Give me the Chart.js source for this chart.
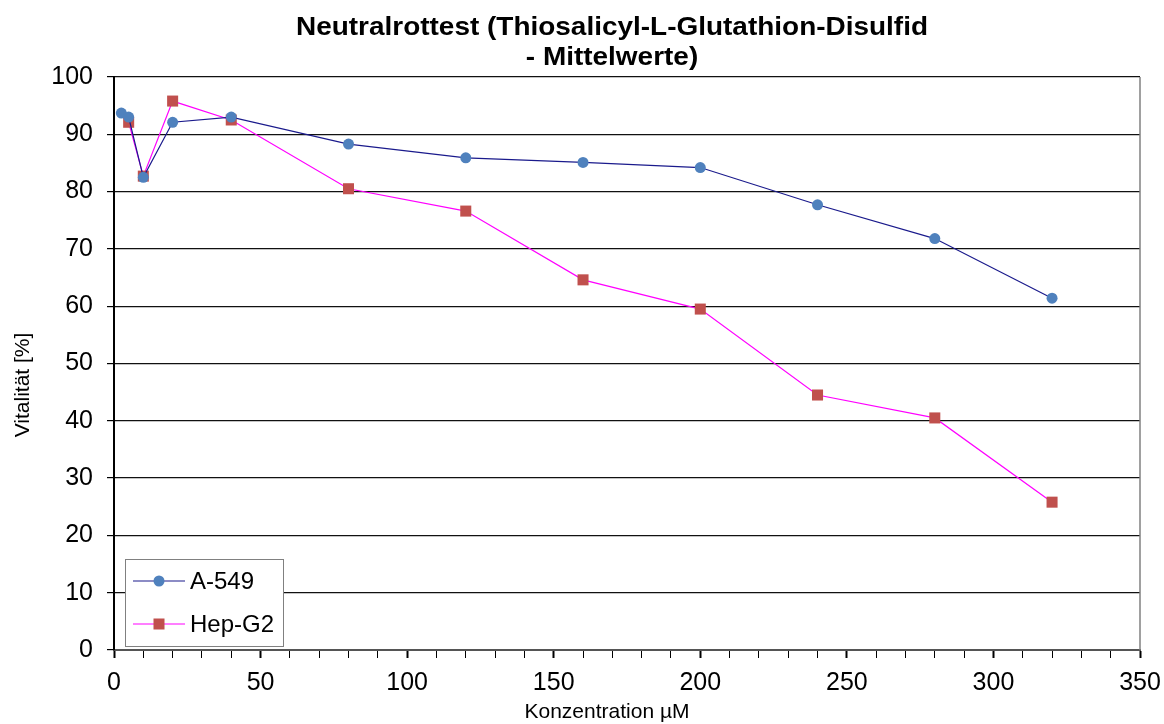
<!DOCTYPE html>
<html>
<head>
<meta charset="utf-8">
<script src="https://cdn.jsdelivr.net/npm/chart.js@4.4.1/dist/chart.umd.min.js"></script>
<style>
html,body{margin:0;padding:0;background:#fff;}
#wrap{width:1164px;height:724px;position:relative;}
</style>
</head>
<body>
<div id="wrap"><canvas id="c" width="1164" height="724"></canvas></div>
<script>
const titleLines = ["Neutralrottest (Thiosalicyl-L-Glutathion-Disulfid", "- Mittelwerte)"];
const xTitle = "Konzentration µM";
const yTitle = "Vitalität [%]";
const seriesNames = ["A-549", "Hep-G2"];
const a549X = [2.5, 5, 10, 20, 40, 80, 120, 160, 200, 240, 280, 320];
const a549Y = [93.7, 93.0, 82.5, 92.1, 93.0, 88.3, 85.9, 85.1, 84.2, 77.7, 71.8, 61.4];
const hepX = [5, 10, 20, 40, 80, 120, 160, 200, 240, 280, 320];
const hepY = [92.1, 82.7, 95.8, 92.5, 80.5, 76.6, 64.6, 59.5, 44.5, 40.5, 25.8];
const xTickLabels = [0, 50, 100, 150, 200, 250, 300, 350];
const yTickLabels = [0, 10, 20, 30, 40, 50, 60, 70, 80, 90, 100];

const FONT = "'Liberation Sans', Arial, Helvetica, sans-serif";
const colA = {line: '#1a1a8c', point: '#4f81bd'};
const colH = {line: '#ff00ff', point: '#c0504d'};

const toPts = (xs, ys) => xs.map((x, i) => ({x: x, y: ys[i]}));

function stretchedText(ctx, text, cx, cy, sx) {
  ctx.save();
  ctx.translate(cx, cy);
  ctx.scale(sx, 1);
  ctx.fillText(text, 0, 0);
  ctx.restore();
}

const decor = {
  id: 'decor',
  afterDraw(chart) {
    const ctx = chart.ctx;
    const a = chart.chartArea;
    ctx.save();
    // right border
    ctx.strokeStyle = '#808080';
    ctx.lineWidth = 1.5;
    ctx.beginPath();
    ctx.moveTo(a.right, a.top);
    ctx.lineTo(a.right, a.bottom);
    ctx.stroke();
    // title
    ctx.fillStyle = '#000';
    ctx.textAlign = 'center';
    ctx.textBaseline = 'middle';
    ctx.font = 'bold 26px ' + FONT;
    const w0 = ctx.measureText(titleLines[0]).width;
    const sx = 632 / w0;
    stretchedText(ctx, titleLines[0], 612, 28, sx);
    stretchedText(ctx, titleLines[1], 612, 58, sx);
    // x title
    ctx.font = '21px ' + FONT;
    ctx.fillText(xTitle, 607, 712);
    // y title
    ctx.save();
    ctx.translate(23, 385);
    ctx.rotate(-Math.PI / 2);
    ctx.fillText(yTitle, 0, 0);
    ctx.restore();
    // legend
    const lx = 125, ly = 559, lw = 158, lh = 87;
    ctx.fillStyle = '#fff';
    ctx.fillRect(lx, ly, lw, lh);
    ctx.strokeStyle = '#808080';
    ctx.lineWidth = 1;
    ctx.strokeRect(lx + 0.5, ly + 0.5, lw, lh);
    const ds = chart.data.datasets;
    const rows = [581, 624];
    ds.forEach((d, i) => {
      const yy = rows[i];
      ctx.strokeStyle = d.borderColor;
      ctx.lineWidth = 1.2;
      ctx.beginPath();
      ctx.moveTo(133, yy);
      ctx.lineTo(185, yy);
      ctx.stroke();
      ctx.fillStyle = d.pointBackgroundColor;
      if (d.pointStyle === 'rect') {
        ctx.fillRect(159 - 5.5, yy - 5.5, 11, 11);
      } else {
        ctx.beginPath();
        ctx.arc(159, yy, 5.5, 0, Math.PI * 2);
        ctx.fill();
      }
      ctx.fillStyle = '#000';
      ctx.textAlign = 'left';
      ctx.textBaseline = 'middle';
      ctx.font = '24px ' + FONT;
      ctx.fillText(d.label, 190, yy + 1);
    });
    ctx.restore();
  }
};

new Chart(document.getElementById('c'), {
  type: 'line',
  data: {
    datasets: [
      {
        label: seriesNames[0],
        data: toPts(a549X, a549Y),
        borderColor: colA.line,
        borderWidth: 1.2,
        pointStyle: 'circle',
        pointRadius: 5.5,
        pointBorderWidth: 0,
        pointBackgroundColor: colA.point,
        pointBorderColor: colA.point,
        tension: 0,
        fill: false
      },
      {
        label: seriesNames[1],
        data: toPts(hepX, hepY),
        borderColor: colH.line,
        borderWidth: 1.2,
        pointStyle: 'rect',
        pointRadius: 7.8,
        pointBorderWidth: 0,
        pointBackgroundColor: colH.point,
        pointBorderColor: colH.point,
        tension: 0,
        fill: false
      }
    ]
  },
  options: {
    responsive: false,
    animation: false,
    devicePixelRatio: 1,
    layout: {padding: {top: 77, right: 24, left: 0, bottom: 0}},
    plugins: {
      legend: {display: false},
      title: {display: false},
      tooltip: {enabled: false}
    },
    scales: {
      x: {
        type: 'linear',
        min: 0,
        max: 350,
        afterFit(s) { s.height = 74; s.paddingLeft = 0; s.paddingRight = 0; },
        afterBuildTicks(s) {
          const t = [];
          for (let v = 0; v <= 350; v += 10) t.push({value: v});
          s.ticks = t;
        },
        ticks: {
          autoSkip: false,
          maxRotation: 0,
          padding: 10,
          color: '#000',
          font: {family: FONT, size: 25},
          callback: (v) => xTickLabels.includes(v) ? String(v) : ''
        },
        grid: {
          drawOnChartArea: false,
          drawTicks: true,
          tickLength: 8,
          tickColor: '#000',
          tickWidth: (c) => (c.tick && c.tick.value % 50 === 0) ? 2 : 1
        },
        border: {display: true, color: '#555', width: 2}
      },
      y: {
        type: 'linear',
        min: 0,
        max: 100,
        afterFit(s) { s.width = 114; s.paddingTop = 0; s.paddingBottom = 0; },
        afterBuildTicks(s) { s.ticks = yTickLabels.map(v => ({value: v})); },
        ticks: {
          padding: 14,
          color: '#000',
          font: {family: FONT, size: 25},
          callback: (v) => String(v)
        },
        grid: {
          color: '#111',
          lineWidth: 1.2,
          drawTicks: true,
          tickLength: 7,
          tickColor: '#000'
        },
        border: {display: true, color: '#000', width: 2}
      }
    }
  },
  plugins: [decor]
});
</script>
</body>
</html>
